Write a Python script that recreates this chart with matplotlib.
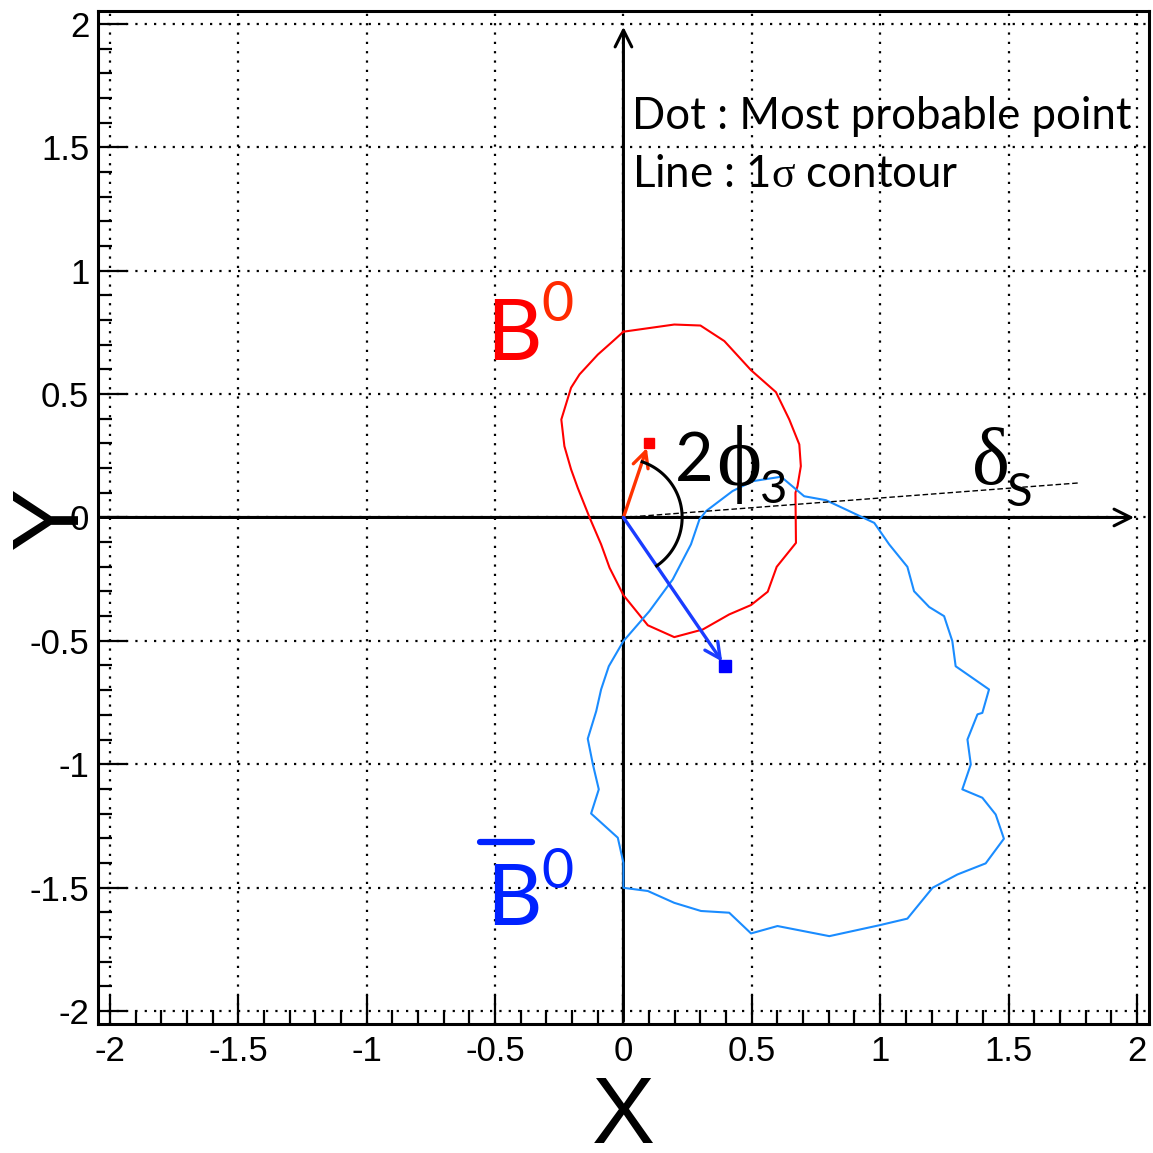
import matplotlib
matplotlib.use("Agg")
import matplotlib.pyplot as plt
import numpy as np
from matplotlib.ticker import MultipleLocator

plt.rcParams['mathtext.fontset'] = 'custom'
plt.rcParams['mathtext.rm'] = 'Liberation Serif'
plt.rcParams['mathtext.it'] = 'Liberation Serif:italic'

# 1 sigma contours
red_x = [0.0, 0.198, 0.300, 0.393, 0.497, 0.594, 0.646, 0.685, 0.691, 0.678, 0.670,
         0.672, 0.597, 0.562, 0.497, 0.412, 0.309, 0.198, 0.095, 0.0, -0.054, -0.087,
         -0.132, -0.178, -0.204, -0.230, -0.242, -0.204, -0.171, -0.100, -0.048, 0.0]
red_y = [0.753, 0.782, 0.778, 0.715, 0.597, 0.508, 0.397, 0.296, 0.208, 0.127, 0.100,
         -0.103, -0.200, -0.301, -0.355, -0.393, -0.454, -0.485, -0.437, -0.315, -0.204, -0.109,
         0.0, 0.120, 0.195, 0.289, 0.397, 0.526, 0.580, 0.660, 0.708, 0.753]

blue_x = [0.503, 0.614, 0.704, 0.789, 0.867, 0.977, 1.035, 1.106, 1.132, 1.191, 1.249,
          1.281, 1.294, 1.424, 1.398, 1.379, 1.340, 1.353, 1.320, 1.398, 1.450, 1.482,
          1.411, 1.301, 1.204, 1.106, 0.996, 0.802, 0.600, 0.497, 0.412, 0.302, 0.198,
          0.095, 0.0, 0.0, -0.022, -0.126, -0.096, -0.119, -0.139, -0.106, -0.087, -0.057,
          0.0, 0.101, 0.192, 0.263, 0.296, 0.322, 0.425, 0.503]
blue_y = [0.147, 0.165, 0.086, 0.070, 0.032, -0.022, -0.109, -0.200, -0.299, -0.363, -0.400,
          -0.501, -0.603, -0.697, -0.792, -0.798, -0.900, -1.001, -1.102, -1.136, -1.204, -1.302,
          -1.402, -1.447, -1.501, -1.626, -1.653, -1.697, -1.656, -1.686, -1.602, -1.595, -1.562,
          -1.514, -1.501, -1.400, -1.298, -1.200, -1.102, -1.001, -0.897, -0.785, -0.697, -0.603,
          -0.501, -0.380, -0.251, -0.109, -0.008, 0.026, 0.107, 0.147]

# most probable points
b0_point = (0.098, 0.303)
b0bar_point = (0.397, -0.603)
delta_end = (1.774, 0.140)

fig = plt.figure(figsize=(11.53, 11.53), dpi=100)
ax = fig.add_axes([0.0847, 0.1119, 0.9118, 0.8786])
ax.set_xlim(-2.048, 2.047)
ax.set_ylim(-2.053, 2.053)

for side in ['left', 'bottom', 'right', 'top']:
    ax.spines[side].set_linewidth(2.2)

ax.xaxis.set_major_locator(MultipleLocator(0.5))
ax.yaxis.set_major_locator(MultipleLocator(0.5))
ax.xaxis.set_minor_locator(MultipleLocator(0.1))
ax.yaxis.set_minor_locator(MultipleLocator(0.1))
ax.tick_params(which='both', direction='in', top=False, right=False, width=1.6)
ax.tick_params(which='major', length=21)
ax.tick_params(which='minor', length=10)
ax.tick_params(axis='x', pad=8)
ax.tick_params(axis='y', pad=6)
ax.xaxis.set_major_formatter(lambda v, p: f'{v:g}')
ax.yaxis.set_major_formatter(lambda v, p: f'{v:g}')
for lab in ax.get_xticklabels() + ax.get_yticklabels():
    lab.set_fontfamily('Liberation Sans')
    lab.set_fontsize(25)
ax.grid(True, which='major', color='black', linestyle=(0, (1, 3.2)), linewidth=1.6)

ax.set_xlabel('X', fontsize=68, family='Liberation Sans')
ax.set_ylabel('Y', fontsize=68, family='Liberation Sans')
ax.xaxis.set_label_coords(0.5, -0.093)
ax.xaxis.label.set_va('center')
ax.yaxis.set_label_coords(-0.043, 0.5)
ax.yaxis.label.set_va('center')

# coordinate axes with arrow heads
ax.annotate('', xy=(2.0, 0), xytext=(-2.048, 0),
            arrowprops=dict(arrowstyle='->', lw=2.2, color='black', mutation_scale=30))
ax.annotate('', xy=(0, 2.0), xytext=(0, -2.053),
            arrowprops=dict(arrowstyle='->', lw=2.2, color='black', mutation_scale=30))

ax.plot(red_x, red_y, color='#ff0000', lw=1.5, zorder=3)
ax.plot(blue_x, blue_y, color='#1a8cff', lw=1.5, zorder=3)

ax.plot([0, delta_end[0]], [0, delta_end[1]], color='black', lw=1.0,
        linestyle=(0, (4, 2)), zorder=3)

ax.annotate('', xy=b0_point, xytext=(0, 0),
            arrowprops=dict(arrowstyle='->', lw=2.4, color='#ff3300',
                            mutation_scale=28, shrinkA=0, shrinkB=4), zorder=4)
ax.annotate('', xy=b0bar_point, xytext=(0, 0),
            arrowprops=dict(arrowstyle='->', lw=2.4, color='#1a3cff',
                            mutation_scale=28, shrinkA=0, shrinkB=4), zorder=4)
ax.plot(*b0_point, marker='s', ms=7, color='#ff0000', zorder=5)
ax.plot(*b0bar_point, marker='s', ms=8, color='#0000ff', zorder=5)

# arc between the two vectors, round in screen space
o = ax.transData.transform((0, 0))
p1 = ax.transData.transform(b0_point) - o
p2 = ax.transData.transform(b0bar_point) - o
a1 = np.arctan2(p1[1], p1[0])
a2 = np.arctan2(p2[1], p2[0])
t = np.linspace(a2, a1, 80)
r = 58.7
arc = ax.transData.inverted().transform(np.column_stack([o[0] + r * np.cos(t), o[1] + r * np.sin(t)]))
ax.plot(arc[:, 0], arc[:, 1], color='black', lw=2.2, zorder=4)

# annotations
ax.text(0.035, 1.575, 'Dot : Most probable point', fontsize=31.5, family='Lato', va='baseline')
ax.text(0.035, 1.341, r'Line : 1$\mathrm{\sigma}$ contour', fontsize=31.5, family='Lato', va='baseline')

ax.text(0.2, 0.147, '2', fontsize=48, family='Lato', va='baseline')
ax.text(0.36, 0.13, r'$\mathrm{\phi}$', fontsize=62, va='baseline')
ax.text(0.53, 0.06, '3', fontsize=34, family='Lato', va='baseline')

ax.text(1.355, 0.135, r'$\mathrm{\delta}$', fontsize=58, va='baseline')
ax.text(1.49, 0.045, 'S', fontsize=34, family='Lato', va='baseline')

ax.text(-0.535, 0.64, 'B', fontsize=62, family='Lato', color='#ff0000', va='baseline')
ax.text(-0.32, 0.795, '0', fontsize=40, family='Lato', color='#ff2a00', va='baseline')

ax.text(-0.535, -1.65, 'B', fontsize=62, family='Lato', color='#0022ff', va='baseline')
ax.text(-0.32, -1.50, '0', fontsize=40, family='Lato', color='#0022ff', va='baseline')
ax.plot([-0.56, -0.355], [-1.315, -1.315], color='#0022ff', lw=4.5, solid_capstyle='round')

fig.savefig('out.png', dpi=100)
